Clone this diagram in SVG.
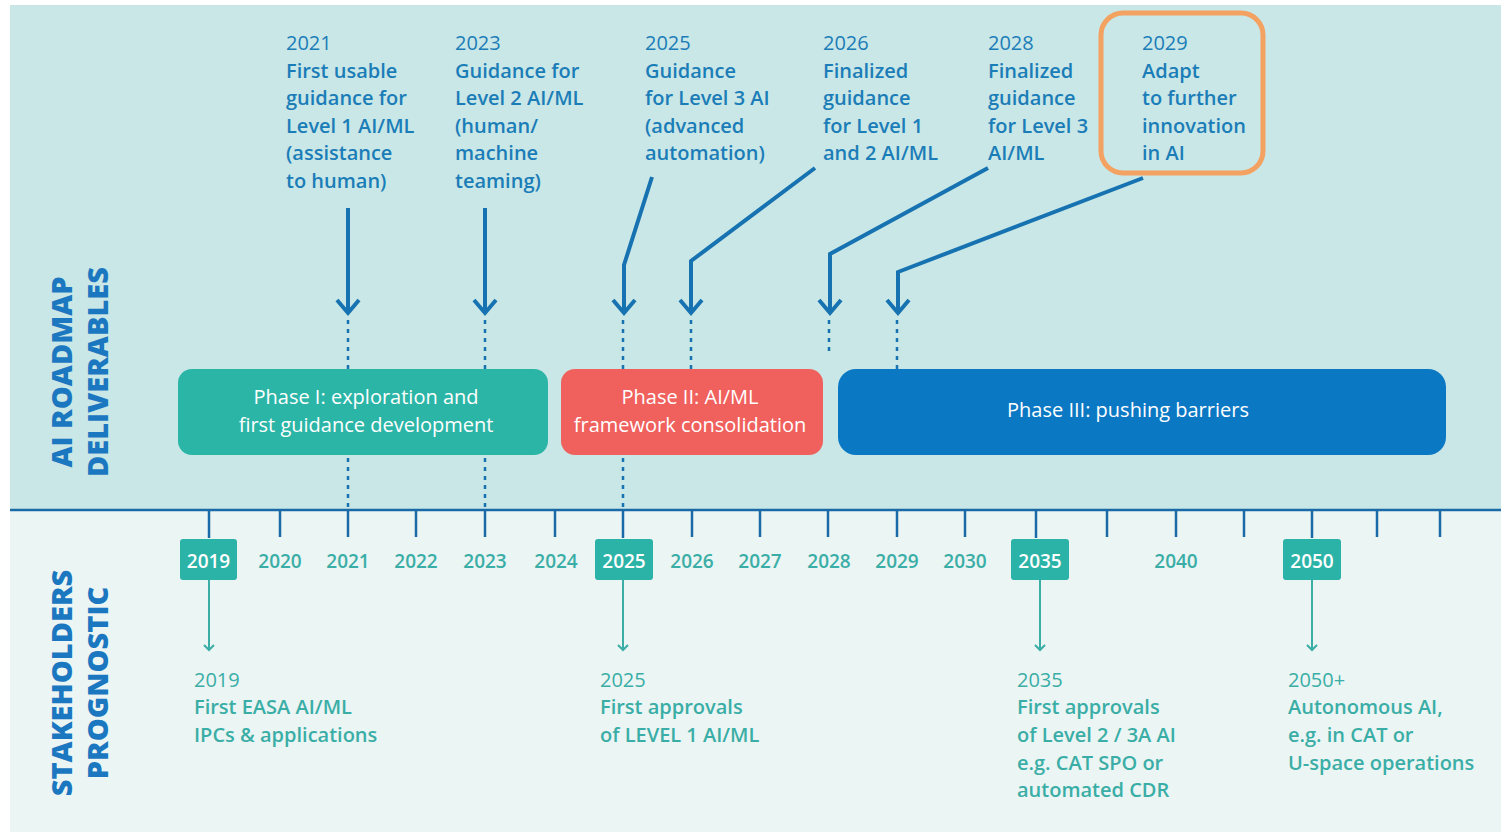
<svg xmlns="http://www.w3.org/2000/svg" width="1501" height="832" viewBox="0 0 1501 832">
<style>
.top{font-family:"Open Sans","Liberation Sans",sans-serif;font-size:20px;fill:#1b7db8;font-weight:600}
.top .yr{font-weight:400}
.bot{font-family:"Open Sans","Liberation Sans",sans-serif;font-size:20px;fill:#3aaea6;font-weight:600}
.bot .yr{font-weight:400}
.ph{font-family:"Open Sans","Liberation Sans",sans-serif;font-size:20px;fill:#ffffff;text-anchor:middle}
.yl{font-family:"Open Sans","Liberation Sans",sans-serif;font-size:19px;fill:#3aaea6;font-weight:600;text-anchor:middle}
.yb{font-family:"Open Sans","Liberation Sans",sans-serif;font-size:19px;fill:#ffffff;font-weight:600;text-anchor:middle}
.side{font-family:"Open Sans","Liberation Sans",sans-serif;font-size:29px;fill:#1b78c0;font-weight:800;text-anchor:middle}
.arr{fill:none;stroke:#1672b0;stroke-width:4;stroke-linejoin:miter}
.dot{stroke:#1672b0;stroke-width:2.5;stroke-dasharray:4 5}
.tick{stroke:#1a6aa8;stroke-width:2.5}
.barr{fill:none;stroke:#3aaea6;stroke-width:2}
</style>
<rect x="0" y="0" width="1501" height="832" fill="#ffffff"/>
<rect x="10" y="5" width="1491" height="506" fill="#c9e7e6"/>
<rect x="10" y="511" width="1491" height="321" fill="#ebf5f4"/>
<line x1="10" y1="510" x2="1501" y2="510" stroke="#1a6aa8" stroke-width="2.5"/>

<g id="side-labels">
<text class="side" transform="translate(72,372) rotate(-90)">AI ROADMAP</text>
<text class="side" transform="translate(108,372) rotate(-90)">DELIVERABLES</text>
<text class="side" transform="translate(72,683) rotate(-90)">STAKEHOLDERS</text>
<text class="side" transform="translate(108,683) rotate(-90)">PROGNOSTIC</text>
</g>

<g id="ticks">
<line class="tick" x1="209" y1="510" x2="209" y2="538"/>
<line class="tick" x1="280" y1="510" x2="280" y2="537"/>
<line class="tick" x1="348" y1="510" x2="348" y2="537"/>
<line class="tick" x1="416" y1="510" x2="416" y2="537"/>
<line class="tick" x1="485" y1="510" x2="485" y2="537"/>
<line class="tick" x1="555" y1="510" x2="555" y2="537"/>
<line class="tick" x1="623" y1="510" x2="623" y2="538"/>
<line class="tick" x1="692" y1="510" x2="692" y2="537"/>
<line class="tick" x1="760" y1="510" x2="760" y2="537"/>
<line class="tick" x1="828" y1="510" x2="828" y2="537"/>
<line class="tick" x1="897" y1="510" x2="897" y2="537"/>
<line class="tick" x1="965" y1="510" x2="965" y2="537"/>
<line class="tick" x1="1036" y1="510" x2="1036" y2="538"/>
<line class="tick" x1="1107" y1="510" x2="1107" y2="537"/>
<line class="tick" x1="1176" y1="510" x2="1176" y2="537"/>
<line class="tick" x1="1244" y1="510" x2="1244" y2="537"/>
<line class="tick" x1="1312" y1="510" x2="1312" y2="538"/>
<line class="tick" x1="1377" y1="510" x2="1377" y2="537"/>
<line class="tick" x1="1440" y1="510" x2="1440" y2="537"/>
</g>

<g id="years">
<rect x="180" y="539" width="57" height="41" rx="3" fill="#2bb3a8"/>
<text class="yb" x="208.5" y="568">2019</text>
<text class="yl" x="280" y="568">2020</text>
<text class="yl" x="348" y="568">2021</text>
<text class="yl" x="416" y="568">2022</text>
<text class="yl" x="485" y="568">2023</text>
<text class="yl" x="556" y="568">2024</text>
<rect x="595" y="539" width="58" height="41" rx="3" fill="#2bb3a8"/>
<text class="yb" x="624" y="568">2025</text>
<text class="yl" x="692" y="568">2026</text>
<text class="yl" x="760" y="568">2027</text>
<text class="yl" x="829" y="568">2028</text>
<text class="yl" x="897" y="568">2029</text>
<text class="yl" x="965" y="568">2030</text>
<rect x="1011" y="539" width="58" height="41" rx="3" fill="#2bb3a8"/>
<text class="yb" x="1040" y="568">2035</text>
<text class="yl" x="1176" y="568">2040</text>
<rect x="1283" y="539" width="58" height="41" rx="3" fill="#2bb3a8"/>
<text class="yb" x="1312" y="568">2050</text>
</g>

<g id="phase1">
<rect x="178" y="369" width="370" height="86" rx="14" fill="#2bb5a6"/>
<text class="ph" x="366" y="404">Phase I: exploration and</text>
<text class="ph" x="366" y="432">first guidance development</text>
</g>
<g id="phase2">
<rect x="561" y="369" width="262" height="86" rx="14" fill="#f0605d"/>
<text class="ph" x="690" y="404">Phase II: AI/ML</text>
<text class="ph" x="690" y="432">framework consolidation</text>
</g>
<g id="phase3">
<rect x="838" y="369" width="608" height="86" rx="18" fill="#0b78c3"/>
<text class="ph" x="1128" y="417">Phase III: pushing barriers</text>
</g>

<g id="d2021" class="top">
<text x="286" y="50" class="yr">2021</text>
<text x="286" y="78">First usable</text>
<text x="286" y="105">guidance for</text>
<text x="286" y="133">Level 1 AI/ML</text>
<text x="286" y="160">(assistance</text>
<text x="286" y="188">to human)</text>
</g>
<g id="d2023" class="top">
<text x="455" y="50" class="yr">2023</text>
<text x="455" y="78">Guidance for</text>
<text x="455" y="105">Level 2 AI/ML</text>
<text x="455" y="133">(human/</text>
<text x="455" y="160">machine</text>
<text x="455" y="188">teaming)</text>
</g>
<g id="d2025" class="top">
<text x="645" y="50" class="yr">2025</text>
<text x="645" y="78">Guidance</text>
<text x="645" y="105">for Level 3 AI</text>
<text x="645" y="133">(advanced</text>
<text x="645" y="160">automation)</text>
</g>
<g id="d2026" class="top">
<text x="823" y="50" class="yr">2026</text>
<text x="823" y="78">Finalized</text>
<text x="823" y="105">guidance</text>
<text x="823" y="133">for Level 1</text>
<text x="823" y="160">and 2 AI/ML</text>
</g>
<g id="d2028" class="top">
<text x="988" y="50" class="yr">2028</text>
<text x="988" y="78">Finalized</text>
<text x="988" y="105">guidance</text>
<text x="988" y="133">for Level 3</text>
<text x="988" y="160">AI/ML</text>
</g>
<g id="d2029" class="top">
<rect x="1101" y="13" width="162" height="160" rx="22" fill="none" stroke="#f4a262" stroke-width="5"/>
<text x="1142" y="50" class="yr">2029</text>
<text x="1142" y="78">Adapt</text>
<text x="1142" y="105">to further</text>
<text x="1142" y="133">innovation</text>
<text x="1142" y="160">in AI</text>
</g>

<g id="s2019" class="bot">
<text x="194" y="687" class="yr">2019</text>
<text x="194" y="714">First EASA AI/ML</text>
<text x="194" y="742">IPCs &amp; applications</text>
</g>
<g id="s2025" class="bot">
<text x="600" y="687" class="yr">2025</text>
<text x="600" y="714">First approvals</text>
<text x="600" y="742">of LEVEL 1 AI/ML</text>
</g>
<g id="s2035" class="bot">
<text x="1017" y="687" class="yr">2035</text>
<text x="1017" y="714">First approvals</text>
<text x="1017" y="742">of Level 2 / 3A AI</text>
<text x="1017" y="770">e.g. CAT SPO or</text>
<text x="1017" y="797">automated CDR</text>
</g>
<g id="s2050" class="bot">
<text x="1288" y="687" class="yr">2050+</text>
<text x="1288" y="714">Autonomous AI,</text>
<text x="1288" y="742">e.g. in CAT or</text>
<text x="1288" y="770">U-space operations</text>
</g>

<g id="connectors">
<path class="arr" d="M348 208 V313 M337 300 L348 313 L359 300"/>
<path class="arr" d="M485 208 V313 M474 300 L485 313 L496 300"/>
<path class="arr" d="M652 177 L624 265 V313 M613 300 L624 313 L635 300"/>
<path class="arr" d="M815 168 L691 261 V313 M680 300 L691 313 L702 300"/>
<path class="arr" d="M988 168 L830 254 V313 M819 300 L830 313 L841 300"/>
<path class="arr" d="M1143 178 L898 272 V313 M887 300 L898 313 L909 300"/>
<line class="dot" x1="348" y1="320" x2="348" y2="369"/>
<line class="dot" x1="485" y1="320" x2="485" y2="369"/>
<line class="dot" x1="623" y1="320" x2="623" y2="369"/>
<line class="dot" x1="691" y1="320" x2="691" y2="369"/>
<line class="dot" x1="829" y1="320" x2="829" y2="356"/>
<line class="dot" x1="897" y1="320" x2="897" y2="369"/>
<line class="dot" x1="348" y1="458" x2="348" y2="510"/>
<line class="dot" x1="485" y1="458" x2="485" y2="510"/>
<line class="dot" x1="623" y1="458" x2="623" y2="510"/>
<path class="barr" d="M209 580 V650 M204 645 L209 650 L214 645"/>
<path class="barr" d="M623 580 V650 M618 645 L623 650 L628 645"/>
<path class="barr" d="M1040 580 V650 M1035 645 L1040 650 L1045 645"/>
<path class="barr" d="M1312 580 V650 M1307 645 L1312 650 L1317 645"/>
</g>
</svg>
